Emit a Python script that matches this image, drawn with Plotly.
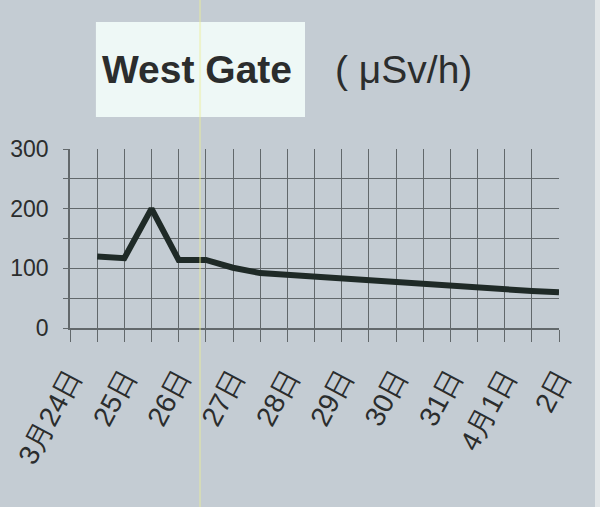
import plotly.graph_objects as go

# Readings taken twice a day, counted in days from 3月24日
days = [0.5, 1.0, 1.5, 2.0, 2.5, 3.0, 3.5, 4.0, 4.5, 5.0, 5.5, 6.0, 6.5, 7.0, 7.5, 8.0, 8.5, 9.0]
dose = [120, 117, 200, 114, 114, 101, 92, 89, 86, 83, 79, 75, 72, 70, 68, 65, 62, 60]

day_ticks = [0, 1, 2, 3, 4, 5, 6, 7, 8, 9]
day_labels = ["3月24日", "25日", "26日", "27日", "28日", "29日", "30日", "31日", "4月1日", "2日"]
dose_ticks = [0, 100, 200, 300]

BG = "#c4ccd3"
GRID = "#62686b"
INK = "#2b2d2d"
FONT = "Liberation Sans, Arial, sans-serif"

fig = go.Figure()
fig.add_trace(go.Scatter(
    x=days, y=dose, mode="lines",
    line=dict(color="#1f2a27", width=6),
    hoverinfo="skip", showlegend=False,
))

fig.update_layout(
    width=600, height=507,
    margin=dict(l=70, r=41, t=149, b=179, pad=0),
    paper_bgcolor=BG, plot_bgcolor=BG,
    font=dict(family=FONT, color=INK),
    showlegend=False,
)

fig.update_xaxes(
    range=[0, 9], tickvals=day_ticks, ticktext=day_labels,
    tickangle=-62, tickfont=dict(size=28, color=INK, family=FONT),
    showgrid=True, gridcolor=GRID, gridwidth=1,
    ticks="outside", ticklen=12, tickcolor=GRID, tickwidth=1,
    minor=dict(dtick=0.5, tick0=0, showgrid=True, gridcolor=GRID, gridwidth=1,
               ticks="outside", ticklen=12, tickcolor=GRID, tickwidth=1),
    showline=True, linecolor=GRID, linewidth=1.5,
    ticklabelstandoff=8, zeroline=False, fixedrange=True, automargin=False,
)
fig.update_yaxes(
    range=[0, 300], tickvals=dose_ticks,
    tickfont=dict(size=23, color=INK, family=FONT),
    showgrid=True, gridcolor=GRID, gridwidth=1,
    ticks="outside", ticklen=5, tickcolor=GRID, tickwidth=1,
    minor=dict(dtick=50, tick0=0, showgrid=True, gridcolor=GRID, gridwidth=1,
               ticks="outside", ticklen=5, tickcolor=GRID, tickwidth=1),
    showline=True, linecolor=GRID, linewidth=1.5,
    ticklabelstandoff=10, zeroline=False, fixedrange=True, automargin=False,
)

# Title panel and unit label
fig.add_shape(type="rect", xref="paper", yref="paper",
              x0=0.053, x1=0.4806, y0=1.179, y1=1.709,
              fillcolor="#eef8f6", line=dict(width=0), layer="below")
fig.add_annotation(xref="paper", yref="paper", x=0.260, y=1.445,
                   text="<b>West Gate</b>", showarrow=False,
                   font=dict(size=39, color=INK, family=FONT),
                   xanchor="center", yanchor="middle")
fig.add_annotation(xref="paper", yref="paper", x=0.683, y=1.445,
                   text="( μSv/h)", showarrow=False,
                   font=dict(size=39, color=INK, family=FONT),
                   xanchor="center", yanchor="middle")

# Pale strip along the right edge and faint vertical streak
fig.add_shape(type="rect", xref="paper", yref="paper",
              x0=1.0736, x1=1.09, y0=-1.01, y1=1.84,
              fillcolor="#e2e6e8", line=dict(width=0), layer="below")
fig.add_shape(type="line", xref="paper", yref="paper",
              x0=0.266, x1=0.266, y0=-1.01, y1=1.84,
              line=dict(color="rgba(235,238,150,0.45)", width=2), layer="above")

fig.write_html("out.html")
